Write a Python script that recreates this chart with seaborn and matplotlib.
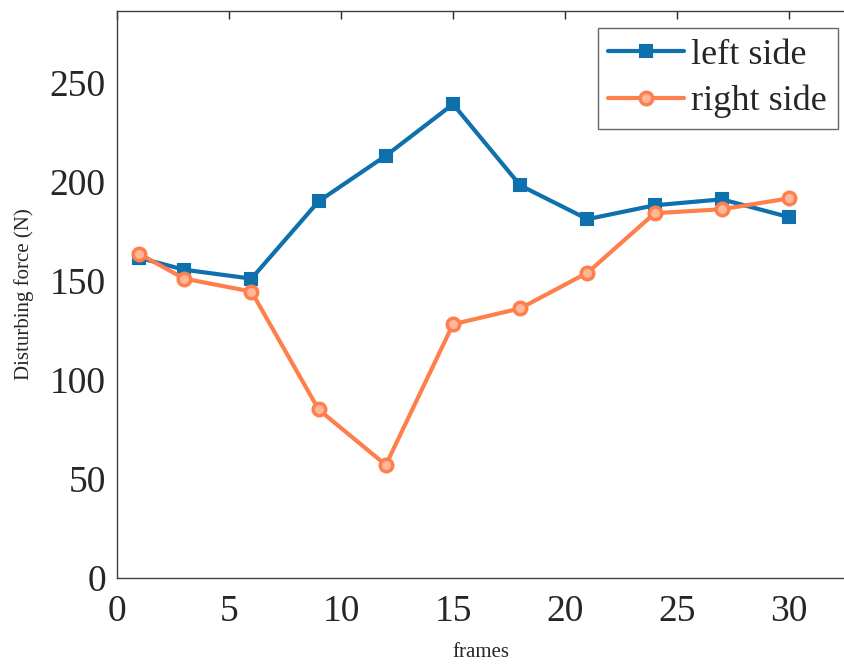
import seaborn as sns
import matplotlib.pyplot as plt
import pandas as pd

frames = [1, 3, 6, 9, 12, 15, 18, 21, 24, 27, 30]
left_side = [161.5, 155.5, 151, 190, 213, 239, 198, 181, 188, 191, 182]
right_side = [163.5, 151, 144.5, 85, 57, 128, 136, 154, 184, 186, 191.5]

sns.set_theme(style="white")
plt.rcParams['font.family'] = ['Liberation Serif', 'DejaVu Serif']

fig = plt.figure(figsize=(8.44, 6.65), dpi=100)
ax = fig.add_axes([0.1386, 0.1308, 0.8614, 0.8527])

df_left = pd.DataFrame({'frames': frames, 'force': left_side})
df_right = pd.DataFrame({'frames': frames, 'force': right_side})

sns.lineplot(data=df_left, x='frames', y='force', ax=ax, color='#0E70AC',
             linewidth=3, marker='s', markersize=8, markeredgewidth=1.5,
             markeredgecolor='#0E70AC', label='left side')
sns.lineplot(data=df_right, x='frames', y='force', ax=ax, color='#FF7F4C',
             linewidth=3, marker='o', markersize=9, markeredgewidth=2.5,
             markerfacecolor='#FFB79A', markeredgecolor='#FF7F4C', label='right side')

ax.set_xlim(0, 32.45)
ax.set_ylim(0, 286)
ax.set_xticks([0, 5, 10, 15, 20, 25, 30])
ax.set_yticks([0, 50, 100, 150, 200, 250])
ax.tick_params(axis='both', direction='in', length=6, width=1, labelsize=27,
               top=True, colors='#262626', pad=8)
ax.tick_params(axis='x', pad=12)
for name, sp in ax.spines.items():
    sp.set_color('#404040')
    sp.set_linewidth(1.0)
ax.spines['right'].set_visible(False)

ax.set_xlabel('frames', fontsize=15, labelpad=10)
ax.set_ylabel('Disturbing force (N)', fontsize=15, labelpad=11)

leg = ax.legend(loc='upper right', fontsize=26, frameon=True, fancybox=False,
                edgecolor='#404040', handlelength=2.1, handletextpad=0.2,
                borderpad=0.3, labelspacing=0.35, borderaxespad=0,
                bbox_to_anchor=(838 / 844, 1 - 28 / 665),
                bbox_transform=fig.transFigure)
leg.get_frame().set_linewidth(1.0)

fig.savefig('out.png', dpi=100)
